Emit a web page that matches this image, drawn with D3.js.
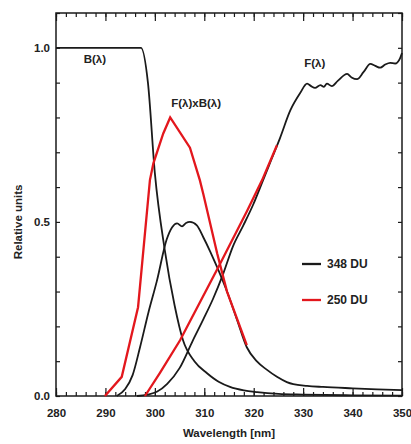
<!DOCTYPE html>
<html>
<head>
<meta charset="utf-8">
<script src="https://cdn.jsdelivr.net/npm/d3@7"></script>
<style>
  body { margin: 0; background: #fff; }
  text { font-family: "Liberation Sans", Arial, Helvetica, sans-serif; font-weight: bold; fill: #222; }
</style>
</head>
<body>
<div id="chart"></div>
<script>
// B(lambda) weighting curve
const bWl  = [280, 297.2, 298.6, 300, 302, 304, 305.7, 308, 310.5, 313, 315.2, 318, 320.7, 325, 330, 340, 350]
const bVal = [1, 1, 0.9, 0.64, 0.42, 0.26, 0.16, 0.1, 0.066, 0.04, 0.026, 0.016, 0.011, 0.006, 0.004, 0.002, 0.001]

// F x B, 348 DU
const fbWl  = [292.3, 294, 295.5, 297, 298.7, 300.4, 302.4, 303.5, 304.5, 305.5, 306.3, 307.1, 308.5, 309.8, 311.2, 312.6, 314.6, 316.6, 318.6, 320.6, 322.7, 324.7, 326.7, 328, 330.8, 334, 340, 345, 350]
const fbVal = [0, 0.02, 0.06, 0.14, 0.24, 0.33, 0.45, 0.485, 0.496, 0.487, 0.497, 0.5, 0.49, 0.456, 0.415, 0.37, 0.30, 0.22, 0.14, 0.1, 0.075, 0.055, 0.04, 0.034, 0.029, 0.026, 0.022, 0.019, 0.017]

// F, 348 DU
const fWl  = [296.4, 298.5, 300.4, 302.5, 305, 307.7, 309.8, 311.8, 313.8, 315.8, 317.9, 319.9, 321.9, 323.6, 325.3, 327.4, 329.4, 330.8, 331.6, 332.4, 333.5, 334.2, 334.8, 335.8, 337, 338.9, 339.8, 340.9, 342.2, 343.6, 344.6, 345.6, 346.6, 347.6, 348.6, 349.6, 350]
const fVal = [0, 0.004, 0.012, 0.035, 0.08, 0.16, 0.22, 0.28, 0.35, 0.43, 0.49, 0.55, 0.62, 0.68, 0.74, 0.82, 0.87, 0.897, 0.89, 0.885, 0.893, 0.888, 0.897, 0.89, 0.905, 0.925, 0.915, 0.91, 0.93, 0.954, 0.948, 0.943, 0.952, 0.957, 0.955, 0.97, 0.985]

// F x B, 250 DU
const fbRedWl  = [289.9, 293.3, 296.6, 299, 299.7, 301.7, 303.1, 307.1, 309.1, 309.8, 312.6, 314.6, 318.6]
const fbRedVal = [0, 0.055, 0.255, 0.62, 0.668, 0.754, 0.8, 0.713, 0.62, 0.58, 0.41, 0.30, 0.146]

// F, 250 DU
const fRedWl  = [298, 301, 305.1, 313.2, 318.6, 321.7, 324.7]
const fRedVal = [0, 0.066, 0.16, 0.38, 0.53, 0.62, 0.72]

const xTicks = [280, 290, 300, 310, 320, 330, 340, 350]
const yTicks = [0, 0.5, 1.0]
const legendLabels = ['348 DU', '250 DU']

const width = 411, height = 444
const margin = {top: 13, right: 9, bottom: 48, left: 56}
const red = '#e3171d', black = '#1a1a1a'

const svg = d3.select('#chart').append('svg')
    .attr('width', width)
    .attr('height', height)

const x = d3.scaleLinear().domain([280, 350]).range([margin.left, width - margin.right])
const y = d3.scaleLinear().domain([0, 1.1]).range([height - margin.bottom, margin.top])

const zip = (a, b) => a.map((v, i) => [v, b[i]])

// minor ticks all round the frame, pointing inward
const minorX = d3.range(280, 351, 2)
const minorY = d3.range(0, 1.101, 0.1)

svg.append('g')
    .attr('transform', `translate(0,${y(0)})`)
    .call(d3.axisBottom(x).tickValues(minorX).tickSize(-4).tickFormat(''))
    .call(g => g.select('.domain').remove())
svg.append('g')
    .attr('transform', `translate(0,${y(1.1)})`)
    .call(d3.axisTop(x).tickValues(minorX).tickSize(-4).tickFormat(''))
    .call(g => g.select('.domain').remove())
svg.append('g')
    .attr('transform', `translate(${x(280)},0)`)
    .call(d3.axisLeft(y).tickValues(minorY).tickSize(-4).tickFormat(''))
    .call(g => g.select('.domain').remove())
svg.append('g')
    .attr('transform', `translate(${x(350)},0)`)
    .call(d3.axisRight(y).tickValues(minorY).tickSize(-4).tickFormat(''))
    .call(g => g.select('.domain').remove())

// bottom axis with labels, major ticks longer
svg.append('g')
    .attr('transform', `translate(0,${y(0)})`)
    .call(d3.axisBottom(x).tickValues(xTicks).tickSize(-8).tickPadding(13))
    .call(g => g.select('.domain').remove())
    .call(g => g.selectAll('text').style('font-size', '11.5px'))
svg.append('g')
    .attr('transform', `translate(0,${y(1.1)})`)
    .call(d3.axisTop(x).tickValues(xTicks).tickSize(-8).tickFormat(''))
    .call(g => g.select('.domain').remove())

// left axis with labels
svg.append('g')
    .attr('transform', `translate(${x(280)},0)`)
    .call(d3.axisLeft(y).tickValues(yTicks).tickSize(0).tickPadding(6).tickFormat(d3.format('.1f')))
    .call(g => g.select('.domain').remove())
    .call(g => g.selectAll('text').style('font-size', '11.5px'))

// frame
svg.append('rect')
    .attr('x', x(280))
    .attr('y', y(1.1))
    .attr('width', x(350) - x(280))
    .attr('height', y(0) - y(1.1))
    .attr('fill', 'none')
    .attr('stroke', black)
    .attr('stroke-width', 1.5)

svg.selectAll('.tick line').attr('stroke', black).attr('stroke-width', 1.2)

const smooth = d3.line()
    .x(d => x(d[0]))
    .y(d => y(d[1]))
    .curve(d3.curveMonotoneX)
const straight = d3.line()
    .x(d => x(d[0]))
    .y(d => y(d[1]))

const blackSeries = [zip(bWl, bVal), zip(fbWl, fbVal), zip(fWl, fVal)]
blackSeries.forEach(s => {
    svg.append('path')
        .datum(s)
        .attr('d', smooth)
        .attr('fill', 'none')
        .attr('stroke', black)
        .attr('stroke-width', 1.8)
})

const redSeries = [zip(fbRedWl, fbRedVal), zip(fRedWl, fRedVal)]
redSeries.forEach(s => {
    svg.append('path')
        .datum(s)
        .attr('d', straight)
        .attr('fill', 'none')
        .attr('stroke', red)
        .attr('stroke-width', 2.3)
})

// curve labels
const curveLabels = [
    {t: 'B(λ)', wl: 285.6, v: 0.955},
    {t: 'F(λ)xB(λ)', wl: 303.3, v: 0.83},
    {t: 'F(λ)', wl: 330.2, v: 0.945}
]
svg.selectAll('.clabel')
    .data(curveLabels)
    .enter().append('text')
    .attr('x', d => x(d.wl))
    .attr('y', d => y(d.v))
    .style('font-size', '11.5px')
    .text(d => d.t)

// legend
const legendColors = [black, red]
const legend = svg.append('g')
legendLabels.forEach((lab, i) => {
    const ly = 264 + i * 36
    legend.append('line')
        .attr('x1', 302).attr('x2', 321)
        .attr('y1', ly).attr('y2', ly)
        .attr('stroke', legendColors[i])
        .attr('stroke-width', 2.3)
    legend.append('text')
        .attr('x', 327)
        .attr('y', ly + 4)
        .style('font-size', '12px')
        .text(lab)
})

// axis titles
svg.append('text')
    .attr('x', (x(280) + x(350)) / 2)
    .attr('y', 437)
    .attr('text-anchor', 'middle')
    .style('font-size', '11.5px')
    .text('Wavelength [nm]')

svg.append('text')
    .attr('text-anchor', 'middle')
    .attr('transform', `translate(22,${y(0.5)})rotate(-90)`)
    .style('font-size', '11.5px')
    .text('Relative units')
</script>
</body>
</html>
